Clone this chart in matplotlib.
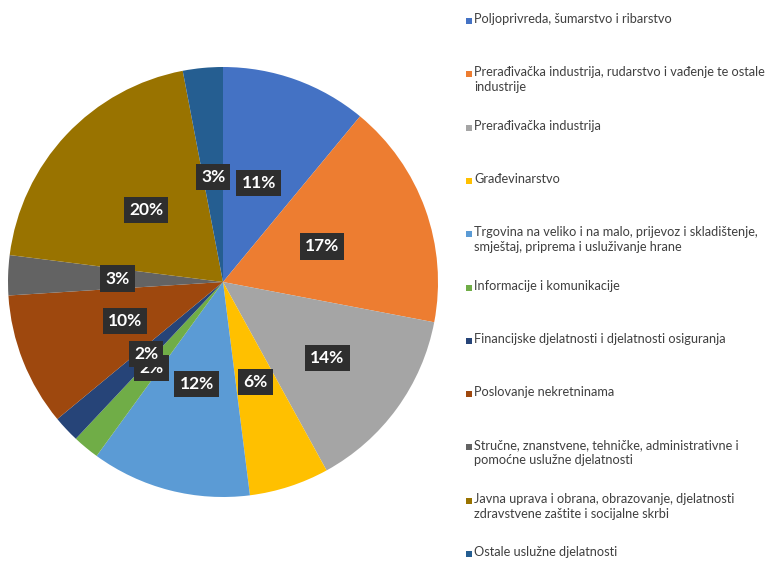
import matplotlib.pyplot as plt
from matplotlib.patches import Rectangle
import numpy as np

plt.rcParams['font.family'] = ['Lato', 'DejaVu Sans']

labels = [
    "Poljoprivreda, šumarstvo i ribarstvo",
    "Prerađivačka industrija, rudarstvo i vađenje te ostale\nindustrije",
    "Prerađivačka industrija",
    "Građevinarstvo",
    "Trgovina na veliko i na malo, prijevoz i skladištenje,\nsmještaj, priprema i usluživanje hrane",
    "Informacije i komunikacije",
    "Financijske djelatnosti i djelatnosti osiguranja",
    "Poslovanje nekretninama",
    "Stručne, znanstvene, tehničke, administrativne i\npomoćne uslužne djelatnosti",
    "Javna uprava i obrana, obrazovanje, djelatnosti\nzdravstvene zaštite i socijalne skrbi",
    "Ostale uslužne djelatnosti",
]
shares = [11, 17, 14, 6, 12, 2, 2, 10, 3, 20, 3]
colors = ["#4472C4", "#ED7D31", "#A5A5A5", "#FFC000", "#5B9BD5", "#70AD47",
          "#264478", "#9E480E", "#636363", "#997300", "#255E91"]

fig = plt.figure(figsize=(7.82, 5.61), dpi=100)
W, H = 782, 561
cx, cy, r = 223, 282, 215
ax = fig.add_axes([(cx - r) / W, (H - cy - r) / H, 2 * r / W, 2 * r / H])

wedges, _ = ax.pie(shares, colors=colors, startangle=90, counterclock=False,
                   wedgeprops=dict(linewidth=0))
ax.set_xlim(-1, 1)
ax.set_ylim(-1, 1)
ax.set_aspect('equal')

# percentage labels in dark boxes
cum = np.cumsum([0] + shares)
for i, v in enumerate(shares):
    mid = 90 - (cum[i] + v / 2) * 3.6
    rad = {2: 0.6, 5: 0.52}.get(i, 0.49)
    x, y = rad * np.cos(np.radians(mid)), rad * np.sin(np.radians(mid))
    ax.text(x, y, f"{v}%", ha='center', va='center', color='white',
            fontsize=12.5, fontweight='bold', zorder=5 if i != 5 else 4,
            bbox=dict(boxstyle='square,pad=0.3', facecolor='#2e2e2e',
                      edgecolor='none'))

# legend drawn manually to keep even spacing
for i, (lab, col) in enumerate(zip(labels, colors)):
    ytop = 20 + i * 53.3
    fig.patches.append(Rectangle((466 / W, 1 - (ytop + 4) / H), 6 / W, 6 / H,
                                 transform=fig.transFigure, facecolor=col,
                                 edgecolor='none'))
    fig.text(474 / W, 1 - (ytop - 7) / H, lab, ha='left', va='top',
             fontsize=9.2, color='#404040', linespacing=1.3)

fig.savefig("out.png", dpi=100)
